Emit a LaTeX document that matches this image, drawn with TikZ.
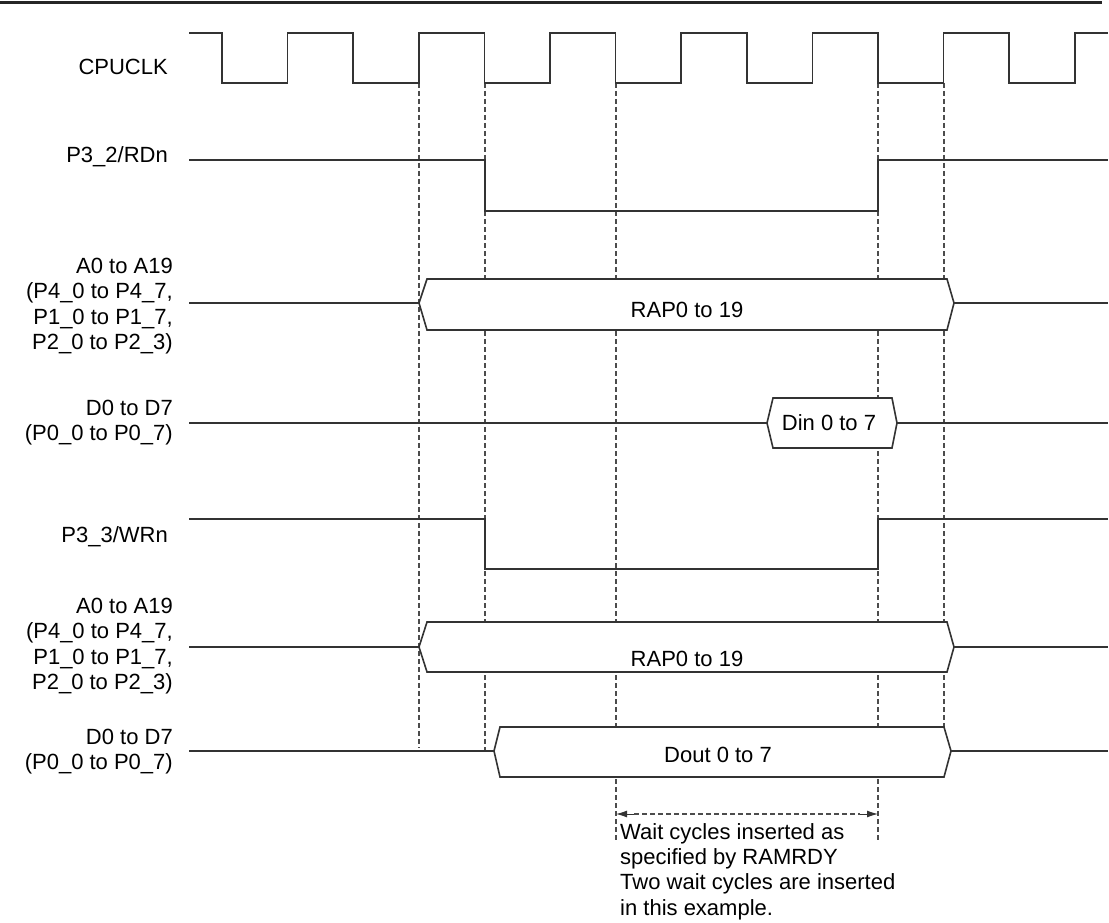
\documentclass[tikz,border=0pt]{standalone}
\usepackage{fontspec}
\setmainfont{Liberation Sans}
\usetikzlibrary{arrows.meta}
\begin{document}
\begin{tikzpicture}[x=1pt,y=-1pt,
  sig/.style={draw=black!80, line width=1.6pt, line join=miter},
  guide/.style={draw=black!70, line width=1.3pt, dash pattern=on 5pt off 3pt},
  bus/.style={draw=black!80, line width=1.6pt, fill=white, line join=miter},
  lbl/.style={font=\fontsize{22}{25.3}\selectfont, inner sep=0pt, align=right, anchor=east},
  txt/.style={font=\fontsize{22}{25.3}\selectfont, inner sep=0pt},
  tiphead/.style={draw=black!80, fill=black!80, line width=1pt, solid, -{Latex[length=11pt,width=7pt]}}]
\useasboundingbox (0,0) rectangle (1109,923);
% top rule
\draw[line width=3pt, black!85] (0,3) -- (1102,3);
% labels
\node[lbl] (lclk) at (168,67) {CPUCLK};
\node[lbl] (lrd) at (168,157) {P3\_2/RDn};
\node[lbl] (la1) at (173,306) {A0 to A19\\(P4\_0 to P4\_7,\\P1\_0 to P1\_7,\\P2\_0 to P2\_3)};
\node[lbl] (ld1) at (173,422.5) {D0 to D7\\(P0\_0 to P0\_7)};
\node[lbl] (lwr) at (168,537) {P3\_3/WRn};
\node[lbl] (la2) at (173,646) {A0 to A19\\(P4\_0 to P4\_7,\\P1\_0 to P1\_7,\\P2\_0 to P2\_3)};
\node[lbl] (ld2) at (173,751.5) {D0 to D7\\(P0\_0 to P0\_7)};
% guide lines
\draw[guide] (419,83) -- (419,748);
\draw[guide] (485,83) -- (485,751);
\draw[guide] (616,83) -- (616,840);
\draw[guide] (878,83) -- (878,840);
\draw[guide] (944,83) -- (944,727);
% clock
\draw[sig] (189,33)--(222,33)--(222,83)--(287.6,83)--(287.6,33)--(353.2,33)--(353.2,83)--(418.8,83)--(418.8,33)--(484.4,33)--(484.4,83)--(550,83)--(550,33)--(615.6,33)--(615.6,83)--(681.2,83)--(681.2,33)--(746.8,33)--(746.8,83)--(812.4,83)--(812.4,33)--(878,33)--(878,83)--(943.6,83)--(943.6,33)--(1009.2,33)--(1009.2,83)--(1074.8,83)--(1074.8,33)--(1108,33);
% RDn
\draw[sig] (189,160)--(485,160)--(485,211)--(878,211)--(878,160)--(1108,160);
% A bus 1
\draw[sig] (189,303)--(419,303);
\draw[bus] (419,303)--(427,279)--(947,279)--(954,303)--(947,330)--(427,330)--cycle;
\draw[sig] (954,303)--(1108,303);
\node[txt] (rap1) at (687,310) {RAP0 to 19};
% D bus 1
\draw[sig] (189,423)--(767,423);
\draw[bus] (767,423)--(773,398)--(892,398)--(897,423)--(892,448)--(773,448)--cycle;
\draw[sig] (897,423)--(1108,423);
\node[txt] (din) at (829,423) {Din 0 to 7};
% WRn
\draw[sig] (189,519)--(485,519)--(485,569)--(878,569)--(878,519)--(1108,519);
% A bus 2
\draw[sig] (189,647)--(419,647);
\draw[bus] (419,647)--(427,622)--(947,622)--(954,647)--(947,672)--(427,672)--cycle;
\draw[sig] (954,647)--(1108,647);
\node[txt] (rap2) at (687,659) {RAP0 to 19};
% D bus 2
\draw[sig] (189,751)--(494,751);
\draw[bus] (494,751)--(500,727)--(944,727)--(951,751)--(944,777)--(500,777)--cycle;
\draw[sig] (951,751)--(1108,751);
\node[txt] (dout) at (718,755) {Dout 0 to 7};
% wait arrow
\coordinate (wl) at (616,814);
\coordinate (wr) at (878,814);
\coordinate (wl2) at (634,814);
\coordinate (wr2) at (860,814);
\draw[guide] (wl2) -- (wr2);
\draw[tiphead] (wl2) -- (wl);
\draw[tiphead] (wr2) -- (wr);
\node[txt, anchor=north west, align=left] (note) at (620,823) {Wait cycles inserted as\\specified by RAMRDY\\Two wait cycles are inserted\\in this example.};
\end{tikzpicture}
\end{document}
